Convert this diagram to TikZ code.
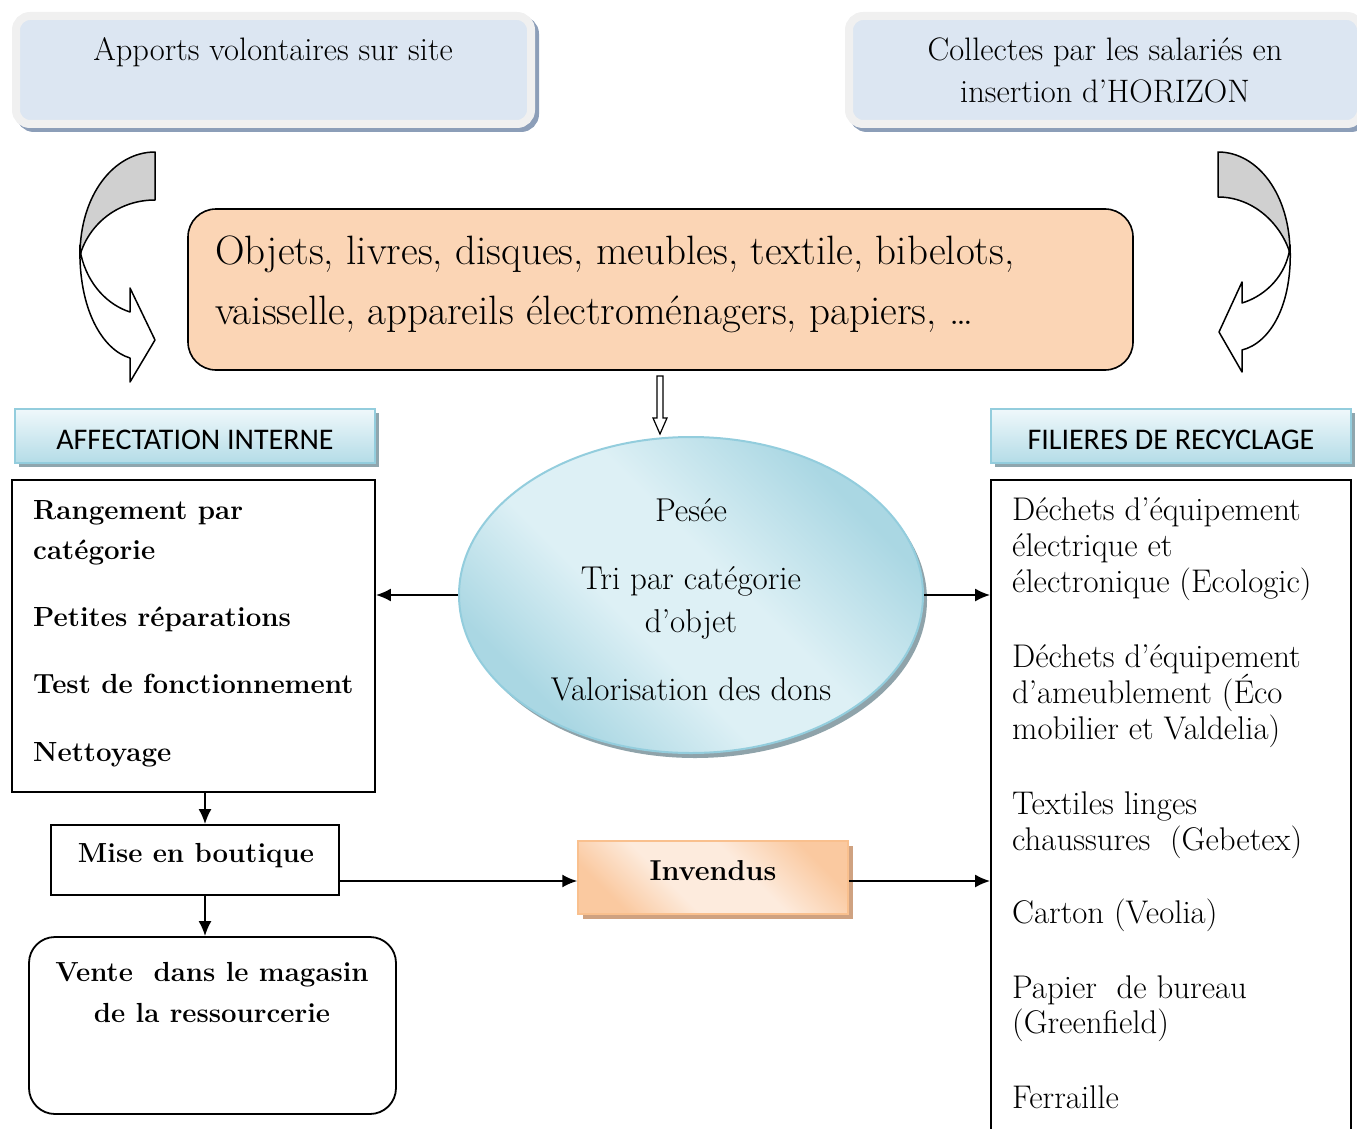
\documentclass[tikz,border=0pt]{standalone}
\usepackage{fontspec}
\newfontfamily\carlito{Carlito}
\usetikzlibrary{arrows.meta,shapes.geometric,shadows}
\definecolor{topfill}{HTML}{DCE6F2}
\definecolor{rimc}{HTML}{F0F0F0}
\definecolor{topsh}{HTML}{8C9EB8}
\definecolor{peach}{HTML}{FBD5B5}
\definecolor{htop}{HTML}{EFF8FB}
\definecolor{hbot}{HTML}{B4DCE7}
\definecolor{hdraw}{HTML}{93CDDD}
\definecolor{hsh}{HTML}{8FA6AE}
\definecolor{elll}{HTML}{DDF0F5}
\definecolor{elld}{HTML}{AAD7E3}
\definecolor{ellsh}{HTML}{8FA3AA}
\definecolor{invl}{HTML}{FDEBDD}
\definecolor{invd}{HTML}{FAC9A0}
\definecolor{invdraw}{HTML}{F9C08E}
\definecolor{invsh}{HTML}{CFA281}
\definecolor{arrgray}{HTML}{D0D0D0}
\pgfdeclarehorizontalshading{ellband}{100bp}{color(0bp)=(elld); color(27bp)=(elld); color(42bp)=(elll); color(55bp)=(elll); color(73bp)=(elld); color(100bp)=(elld)}
\pgfdeclarehorizontalshading{invband}{100bp}{color(0bp)=(invd); color(25bp)=(invd); color(40bp)=(invl); color(58bp)=(invl); color(75bp)=(invd); color(100bp)=(invd)}
\newcommand\fsz[1]{\fontsize{#1}{#1}\selectfont}
\begin{document}
\begin{tikzpicture}[x=1pt,y=-1pt,
  topbox/.style={draw=rimc, line width=8pt, fill=topfill, rounded corners=14pt, inner sep=0pt,
    drop shadow={shadow xshift=4pt, shadow yshift=-4pt, fill=topsh, draw=topsh, line width=8pt, opacity=1}},
  headbox/.style={draw=hdraw, line width=2pt, top color=htop, bottom color=hbot, inner sep=0pt,
    minimum width=360pt, minimum height=54pt,
    drop shadow={shadow xshift=4pt, shadow yshift=-4pt, fill=hsh, opacity=1}},
  plainbox/.style={draw=black, line width=1.8pt, fill=white, inner sep=0pt},
  bigtxt/.style={inner sep=0pt, anchor=base west, font=\fsz{41}},
  toptxt/.style={inner sep=0pt, anchor=base, font=\fsz{32.5}},
  elltxt/.style={inner sep=0pt, anchor=base, font=\fsz{33}},
  hdtxt/.style={inner sep=0pt, anchor=base, font=\carlito\fsz{30}},
  ltxt/.style={inner sep=0pt, anchor=base west, font=\bfseries\fsz{27.7}},
  rtxt/.style={inner sep=0pt, anchor=base west, font=\fsz{32.8}},
  btxt/.style={inner sep=0pt, anchor=base, font=\bfseries\fsz{27.6}},
  conn/.style={line width=1.8pt, -{Latex[length=15pt,width=13pt]}},
  curv/.style={draw=black, line width=1.5pt, line join=round}
]
\path[use as bounding box] (0,0) rectangle (1357,1129);
\clip (0,0) rectangle (1357,1129);

% top boxes
\node[topbox, minimum width=515pt, minimum height=108pt] (tl) at (273.5,70) {};
\node[toptxt] (tltxt) at (273,61) {Apports volontaires sur site};
\node[topbox, minimum width=512pt, minimum height=108pt] (tr) at (1105,70) {};
\node[toptxt] (trtxt1) at (1105,61) {Collectes par les salariés en};
\node[toptxt] (trtxt2) at (1105,103) {insertion d’HORIZON};

% curved arrows
\path[curv, fill=white] (80,245) .. controls (78,310) and (103,350) .. (130,358) -- (130,382) -- (155,340) -- (130,288) -- (130,312) .. controls (108,305) and (88,285) .. (81,255) -- cycle;
\path[curv, fill=arrgray] (155,152) .. controls (114,152) and (80,195) .. (80,255) .. controls (90,222) and (120,200) .. (155,200) -- cycle;
\path[curv, fill=white] (1290,245) .. controls (1293,305) and (1270,343) .. (1242,350) -- (1242,372) -- (1219,332) -- (1242,282) -- (1242,303) .. controls (1262,297) and (1283,280) .. (1289,253) -- cycle;
\path[curv, fill=arrgray] (1218,152) .. controls (1258,152) and (1290,195) .. (1290,253) .. controls (1280,222) and (1252,197) .. (1218,197) -- cycle;

% central box
\node[draw=black, line width=1.6pt, fill=peach, rounded corners=28pt, inner sep=0pt,
  minimum width=945pt, minimum height=161pt] (obj) at (660.5,289.5) {};
\node[bigtxt] (obj1) at (215,264) {Objets, livres, disques, meubles, textile, bibelots,};
\node[bigtxt] (obj2) at (215,324) {vaisselle, appareils électroménagers, papiers, \dots};

% hollow arrow down
\path[draw=black, line width=1.2pt, fill=white] (657,376) -- (663,376) -- (663,418) -- (667,418) -- (660,434) -- (653,418) -- (657,418) -- cycle;

% ellipse
\node[ellipse, draw=hdraw, line width=2pt, shading=ellband, shading angle=45, inner sep=0pt,
  minimum width=464pt, minimum height=316pt,
  drop shadow={shadow xshift=4pt, shadow yshift=-5pt, fill=ellsh, opacity=1}] (ell) at (691,595) {};
\node[elltxt] (e1) at (691,521) {Pesée};
\node[elltxt] (e2) at (691,589) {Tri par catégorie};
\node[elltxt] (e3) at (691,632) {d’objet};
\node[elltxt] (e4) at (691,700) {Valorisation des dons};

% headers
\node[headbox] (hl) at (195,436) {};
\node[hdtxt] (hltxt) at (195,449) {AFFECTATION INTERNE};
\node[headbox] (hr) at (1171,436) {};
\node[hdtxt] (hrtxt) at (1171,449) {FILIERES DE RECYCLAGE};

% left list box
\node[plainbox, minimum width=363pt, minimum height=312pt] (lbox) at (193.5,636) {};
\node[ltxt] (l1) at (33,519) {Rangement par};
\node[ltxt] (l2) at (33,559) {catégorie};
\node[ltxt] (l3) at (33,626) {Petites réparations};
\node[ltxt] (l4) at (33,693) {Test de fonctionnement};
\node[ltxt] (l5) at (33,761) {Nettoyage};

% right list box
\node[plainbox, minimum width=360pt, minimum height=680pt] (rbox) at (1171,820) {};
\node[rtxt] (r1) at (1012,520) {Déchets d’équipement};
\node[rtxt] (r2) at (1012,556) {électrique et};
\node[rtxt] (r3) at (1012,592) {électronique (Ecologic)};
\node[rtxt] (r4) at (1012,667) {Déchets d’équipement};
\node[rtxt] (r5) at (1012,703) {d’ameublement (Éco};
\node[rtxt] (r6) at (1012,739) {mobilier et Valdelia)};
\node[rtxt] (r7) at (1012,814) {Textiles linges};
\node[rtxt] (r8) at (1012,850) {chaussures~~(Gebetex)};
\node[rtxt] (r9) at (1012,923) {Carton (Veolia)};
\node[rtxt] (r10) at (1012,998) {Papier~~de bureau};
\node[rtxt] (r11) at (1012,1033) {(Greenfield)};
\node[rtxt] (r12) at (1012,1108) {Ferraille};

% mise en boutique
\node[plainbox, minimum width=288pt, minimum height=70pt] (mise) at (195,860) {};
\node[btxt] (misetxt) at (196,862) {Mise en boutique};

% vente
\node[plainbox, rounded corners=26pt, minimum width=367pt, minimum height=177pt] (vente) at (212.5,1025.5) {};
\node[btxt] (v1) at (212,981) {Vente~~dans le magasin};
\node[btxt] (v2) at (212,1022) {de la ressourcerie};

% invendus
\node[draw=invdraw, line width=1.5pt, shading=invband, shading angle=45, inner sep=0pt,
  minimum width=270pt, minimum height=73pt,
  drop shadow={shadow xshift=5pt, shadow yshift=-5pt, fill=invsh, opacity=1}] (inv) at (713,877.5) {};
\node[btxt, font=\bfseries\fsz{28.8}] (invtxt) at (713,880) {Invendus};

% connectors
\coordinate (cx) at (205,0);
\coordinate (cy) at (0,881);
\draw[conn] (ell.west) -- (ell.west -| lbox.east);
\draw[conn] (ell.east) -- (ell.east -| rbox.west);
\draw[conn] (cx |- lbox.south) -- (cx |- mise.north);
\draw[conn] (cx |- mise.south) -- (cx |- vente.north);
\draw[conn] (mise.east |- cy) -- (inv.west |- cy);
\draw[conn] (inv.east |- cy) -- (rbox.west |- cy);
\end{tikzpicture}
\end{document}
